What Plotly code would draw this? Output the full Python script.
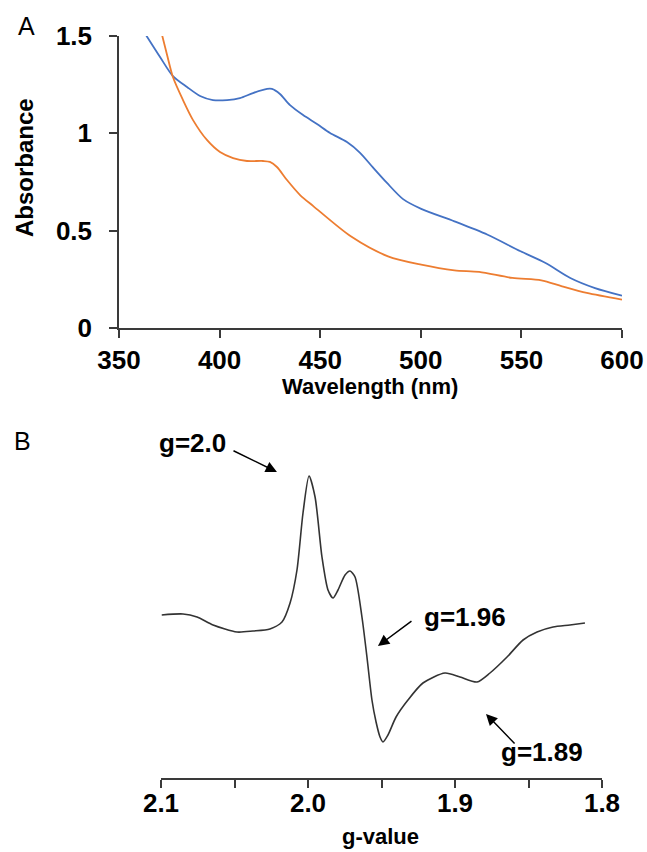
import plotly.graph_objects as go

# ---------------- Panel A: UV-vis absorbance ----------------
wavelength_blue = [363.4, 370.4, 376.8, 383.8, 390.3, 396.7, 403.7, 410.1, 416.6, 423.6, 426.0,
                   430.0, 435.0, 441.5, 448.4, 454.9, 463.3, 469.8, 476.2, 483.2, 491.2,
                   500.2, 516.7, 533.2, 549.6, 562.0, 574.3, 586.6, 600]
absorbance_blue = [1.505, 1.392, 1.294, 1.238, 1.192, 1.171, 1.171, 1.181, 1.207, 1.228, 1.228,
                   1.202, 1.145, 1.094, 1.048, 1.002, 0.955, 0.900, 0.825, 0.745, 0.662,
                   0.612, 0.548, 0.479, 0.394, 0.334, 0.257, 0.205, 0.166]

wavelength_orange = [371.4, 373.9, 376.8, 381.8, 386.8, 393.7, 400.2, 406.7, 413.6, 421.6, 425.0,
                     428.5, 433.5, 440.0, 446.7, 465.2, 483.7, 500.2, 516.7, 529.0, 545.5,
                     559.9, 570.2, 582.5, 600]
absorbance_orange = [1.505, 1.402, 1.289, 1.171, 1.068, 0.966, 0.904, 0.873, 0.858, 0.858, 0.853,
                     0.827, 0.760, 0.683, 0.625, 0.471, 0.368, 0.325, 0.296, 0.288, 0.257,
                     0.245, 0.214, 0.180, 0.146]

abs_ticks = [0, 0.5, 1, 1.5]
abs_tick_labels = ["0", "0.5", "1", "1.5"]
wl_ticks = [350, 400, 450, 500, 550, 600]

# ---------------- Panel B: EPR spectrum (arbitrary units) ----------------
g_values = [2.0995, 2.0850, 2.0755, 2.0646, 2.0483, 2.0374, 2.0259, 2.0177, 2.0122, 2.0075,
            2.0034, 1.9993, 1.9952, 1.9905, 1.9864, 1.9830, 1.9796, 1.9748, 1.9714, 1.9680,
            1.9633, 1.9599, 1.9565, 1.9537, 1.9510, 1.9490, 1.9456, 1.9401, 1.9320, 1.9218,
            1.9068, 1.8966, 1.8850, 1.8762, 1.8646, 1.8537, 1.8442, 1.8333, 1.8218, 1.8116]
epr_signal = [1, 2, -1, -9, -16, -15, -13, -6, 13, 46,
              103, 140, 119, 59, 26, 18, 26, 41, 45, 39,
              -1, -41, -84, -106, -121, -126, -119, -101, -84, -67,
              -57, -61, -66, -57, -41, -24, -16, -11, -9, -7]

g_ticks = [2.1, 2.05, 2.0, 1.95, 1.9, 1.85, 1.8]
g_tick_labels = ["2.1", "", "2.0", "", "1.9", "", "1.8"]

FONT = "Liberation Sans, Arial, sans-serif"
AXC = "#3a3a3a"

W, H = 647, 852


def px(x):
    return x / W


def py(y):
    return 1 - y / H


fig = go.Figure()
fig.add_trace(go.Scatter(x=wavelength_blue, y=absorbance_blue, mode="lines",
                         line=dict(color="#4472C4", width=1.8, shape="spline", smoothing=0.8),
                         xaxis="x", yaxis="y", showlegend=False))
fig.add_trace(go.Scatter(x=wavelength_orange, y=absorbance_orange, mode="lines",
                         line=dict(color="#ED7D31", width=1.8, shape="spline", smoothing=0.8),
                         xaxis="x", yaxis="y", showlegend=False))
fig.add_trace(go.Scatter(x=g_values, y=epr_signal, mode="lines",
                         line=dict(color="#333333", width=1.6, shape="spline", smoothing=0.7),
                         xaxis="x2", yaxis="y2", showlegend=False))

tickfont = dict(family=FONT, size=26, color="black", weight="bold")
common = dict(showgrid=False, zeroline=False, showline=True, linecolor=AXC, linewidth=1.5,
              ticks="outside", ticklen=8, tickwidth=1.5, tickcolor=AXC, tickfont=tickfont,
              automargin=False)

fig.update_layout(
    width=W, height=H,
    margin=dict(l=0, r=0, t=0, b=0, pad=0, autoexpand=False),
    paper_bgcolor="white", plot_bgcolor="white",
    xaxis=dict(domain=[px(119), px(622)], range=[350, 600], tickvals=wl_ticks,
               anchor="y", ticklabelstandoff=0, ticklabeloverflow="allow", **common),
    yaxis=dict(domain=[py(328), py(36)], range=[0, 1.5], tickvals=abs_ticks,
               ticktext=abs_tick_labels, anchor="x", ticklabelstandoff=12, **common),
    xaxis2=dict(domain=[px(161), px(602)], range=[2.1, 1.8], tickvals=g_ticks,
                ticktext=g_tick_labels, anchor="y2", ticklabelstandoff=-7,
                ticklabeloverflow="allow", **common),
    yaxis2=dict(domain=[py(778), py(430)], range=[-162, 186], visible=False,
                anchor="x2", automargin=False),
)

title_font = dict(family=FONT, size=22, color="black", weight="bold")
lab_font = dict(family=FONT, size=26, color="black", weight="bold")
ann = [
    dict(text="A", x=px(26), y=py(26), xref="paper", yref="paper", showarrow=False,
         font=dict(family=FONT, size=25, color="black"), xanchor="center", yanchor="middle"),
    dict(text="B", x=px(22), y=py(441), xref="paper", yref="paper", showarrow=False,
         font=dict(family=FONT, size=25, color="black"), xanchor="center", yanchor="middle"),
    dict(text="Absorbance", x=px(25), y=py(168), xref="paper", yref="paper",
         showarrow=False, textangle=-90, font=dict(title_font, size=24),
         xanchor="center", yanchor="middle"),
    dict(text="Wavelength (nm)", x=px(370), y=py(386), xref="paper", yref="paper",
         showarrow=False, font=title_font, xanchor="center", yanchor="middle"),
    dict(text="g-value", x=px(381), y=py(836), xref="paper", yref="paper",
         showarrow=False, font=title_font, xanchor="center", yanchor="middle"),
    # EPR labels
    dict(text="g=2.0", x=2.0789, y=173, xref="x2", yref="y2", showarrow=False, font=lab_font,
         xanchor="center", yanchor="middle"),
    dict(text="g=1.96", x=1.9224, y=-1, xref="x2", yref="y2", showarrow=False, font=lab_font,
         xanchor="left", yanchor="middle"),
    dict(text="g=1.89", x=1.8116, y=-136, xref="x2", yref="y2", showarrow=False, font=lab_font,
         xanchor="right", yanchor="middle"),
]
arrows = [
    ((2.0517, 166), (2.0211, 144)),
    ((1.9286, -4), (1.9524, -30)),
    ((1.8585, -129), (1.8789, -98)),
]
for (tx, ty), (hx, hy) in arrows:
    ann.append(dict(text="", x=hx, y=hy, ax=tx, ay=ty, xref="x2", yref="y2", axref="x2",
                    ayref="y2", showarrow=True, arrowhead=2, arrowsize=1.5, arrowwidth=1.5,
                    arrowcolor="black", standoff=0, startstandoff=0))
fig.update_layout(annotations=ann)

# remove the default 8px page margin so the 647x852 figure fills the window exactly
fig.write_html("out.html", config={"displayModeBar": False},
               post_script="document.body.style.margin='0px';document.body.style.overflow='hidden';")
